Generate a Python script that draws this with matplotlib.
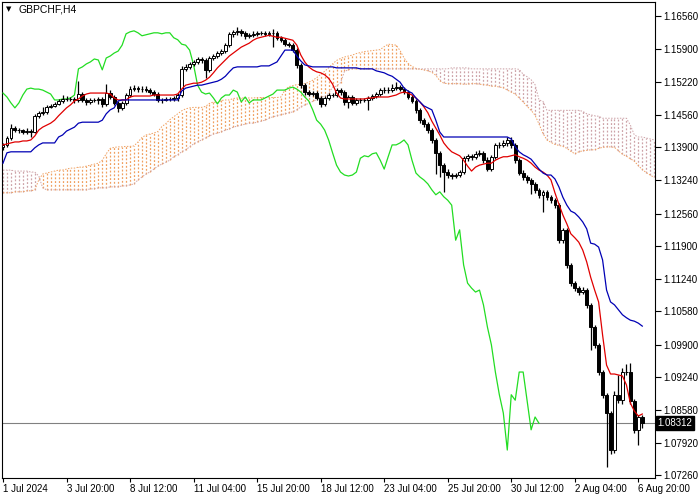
import matplotlib
matplotlib.use('Agg')
import matplotlib.pyplot as plt
import numpy as np

plt.rcParams['font.family'] = 'Liberation Sans'

symbol = 'GBPCHF,H4'
last_price = 1.08312

# H4 candles, bar 0 = 1 Jul 2024
opens = [
    1.1391, 1.1395, 1.1409, 1.1429, 1.1425, 1.1425, 1.1421, 1.1423, 1.1421, 1.1454,
    1.1460, 1.1462, 1.1472, 1.1474, 1.1478, 1.1484, 1.1488, 1.1488, 1.1488, 1.1486,
    1.1498, 1.1486, 1.1482, 1.1486, 1.1486, 1.1488, 1.1478, 1.1500, 1.1492, 1.1480,
    1.1470, 1.1480, 1.1496, 1.1508, 1.1510, 1.1508, 1.1508, 1.1506, 1.1502, 1.1498,
    1.1486, 1.1486, 1.1488, 1.1488, 1.1490, 1.1496, 1.1549, 1.1553, 1.1559, 1.1563,
    1.1569, 1.1567, 1.1547, 1.1571, 1.1575, 1.1581, 1.1585, 1.1597, 1.1620, 1.1624,
    1.1626, 1.1622, 1.1616, 1.1618, 1.1620, 1.1622, 1.1622, 1.1620, 1.1622, 1.1622,
    1.1612, 1.1608, 1.1599, 1.1597, 1.1587, 1.1557, 1.1516, 1.1502, 1.1498, 1.1500,
    1.1490, 1.1478, 1.1490, 1.1496, 1.1496, 1.1506, 1.1502, 1.1482, 1.1492, 1.1480,
    1.1486, 1.1486, 1.1486, 1.1490, 1.1494, 1.1498, 1.1506, 1.1506, 1.1506, 1.1510,
    1.1512, 1.1508, 1.1502, 1.1492, 1.1484, 1.1466, 1.1445, 1.1437, 1.1425, 1.1405,
    1.1379, 1.1354, 1.1340, 1.1334, 1.1332, 1.1334, 1.1340, 1.1368, 1.1373, 1.1371,
    1.1377, 1.1379, 1.1364, 1.1346, 1.1371, 1.1395, 1.1395, 1.1399, 1.1405, 1.1395,
    1.1364, 1.1338, 1.1330, 1.1324, 1.1316, 1.1304, 1.1294, 1.1300, 1.1290, 1.1283,
    1.1273, 1.1202, 1.1223, 1.1152, 1.1115, 1.1105, 1.1097, 1.1101, 1.1071, 1.1026,
    1.0990, 1.0935, 1.0889, 1.0852, 1.0777, 1.0889, 1.0878, 1.0935, 1.0935, 1.0877,
    1.0818, 1.0844,
]
highs = [
    1.1399, 1.1413, 1.1437, 1.1433, 1.1429, 1.1427, 1.1429, 1.1427, 1.1458, 1.1464,
    1.1472, 1.1476, 1.1478, 1.1482, 1.1488, 1.1496, 1.1494, 1.1492, 1.1492, 1.1524,
    1.1502, 1.1490, 1.1490, 1.1490, 1.1492, 1.1492, 1.1518, 1.1506, 1.1496, 1.1484,
    1.1484, 1.1500, 1.1514, 1.1516, 1.1514, 1.1514, 1.1514, 1.1510, 1.1506, 1.1502,
    1.1490, 1.1492, 1.1492, 1.1494, 1.1500, 1.1555, 1.1559, 1.1563, 1.1567, 1.1573,
    1.1573, 1.1571, 1.1575, 1.1579, 1.1585, 1.1589, 1.1601, 1.1624, 1.1628, 1.1634,
    1.1630, 1.1626, 1.1622, 1.1626, 1.1626, 1.1626, 1.1626, 1.1626, 1.1630, 1.1626,
    1.1616, 1.1612, 1.1603, 1.1601, 1.1591, 1.1561, 1.1520, 1.1506, 1.1504, 1.1504,
    1.1494, 1.1494, 1.1500, 1.1500, 1.1510, 1.1510, 1.1506, 1.1496, 1.1496, 1.1490,
    1.1490, 1.1490, 1.1494, 1.1498, 1.1502, 1.1510, 1.1512, 1.1512, 1.1518, 1.1522,
    1.1516, 1.1512, 1.1506, 1.1496, 1.1488, 1.1470, 1.1449, 1.1441, 1.1429, 1.1409,
    1.1383, 1.1358, 1.1346, 1.1338, 1.1338, 1.1344, 1.1372, 1.1377, 1.1377, 1.1383,
    1.1385, 1.1383, 1.1370, 1.1375, 1.1399, 1.1401, 1.1405, 1.1411, 1.1411, 1.1399,
    1.1368, 1.1344, 1.1334, 1.1328, 1.1320, 1.1308, 1.1304, 1.1304, 1.1294, 1.1287,
    1.1277, 1.1227, 1.1227, 1.1156, 1.1119, 1.1109, 1.1107, 1.1105, 1.1075, 1.1030,
    1.0994, 1.0939, 1.0893, 1.0856, 1.0897, 1.0929, 1.0943, 1.0951, 1.0953, 1.0881,
    1.0848, 1.0848,
]
lows = [
    1.1385, 1.1391, 1.1405, 1.1421, 1.1419, 1.1417, 1.1417, 1.1411, 1.1419, 1.1450,
    1.1456, 1.1458, 1.1470, 1.1472, 1.1476, 1.1480, 1.1484, 1.1484, 1.1480, 1.1482,
    1.1482, 1.1476, 1.1478, 1.1482, 1.1478, 1.1472, 1.1474, 1.1488, 1.1476, 1.1462,
    1.1466, 1.1476, 1.1492, 1.1504, 1.1502, 1.1502, 1.1502, 1.1498, 1.1494, 1.1482,
    1.1480, 1.1484, 1.1484, 1.1484, 1.1484, 1.1492, 1.1545, 1.1549, 1.1555, 1.1559,
    1.1561, 1.1530, 1.1543, 1.1567, 1.1571, 1.1577, 1.1581, 1.1593, 1.1614, 1.1618,
    1.1616, 1.1610, 1.1612, 1.1614, 1.1616, 1.1618, 1.1616, 1.1616, 1.1594, 1.1608,
    1.1604, 1.1595, 1.1593, 1.1583, 1.1551, 1.1510, 1.1496, 1.1494, 1.1494, 1.1486,
    1.1472, 1.1474, 1.1486, 1.1492, 1.1492, 1.1496, 1.1476, 1.1470, 1.1476, 1.1476,
    1.1480, 1.1482, 1.1466, 1.1486, 1.1490, 1.1494, 1.1500, 1.1500, 1.1502, 1.1506,
    1.1504, 1.1498, 1.1488, 1.1480, 1.1460, 1.1439, 1.1431, 1.1419, 1.1399, 1.1336,
    1.1330, 1.1299, 1.1328, 1.1326, 1.1328, 1.1330, 1.1336, 1.1362, 1.1365, 1.1367,
    1.1373, 1.1358, 1.1342, 1.1342, 1.1367, 1.1389, 1.1391, 1.1393, 1.1389, 1.1358,
    1.1334, 1.1324, 1.1318, 1.1296, 1.1298, 1.1288, 1.1259, 1.1284, 1.1277, 1.1267,
    1.1196, 1.1196, 1.1146, 1.1109, 1.1099, 1.1091, 1.1093, 1.1065, 1.0980, 1.0984,
    1.0929, 1.0883, 1.0743, 1.0768, 1.0771, 1.0872, 1.0870, 1.0929, 1.0871, 1.0812,
    1.0787, 1.0821,
]
closes = [
    1.1395, 1.1409, 1.1429, 1.1425, 1.1425, 1.1421, 1.1423, 1.1421, 1.1454, 1.1460,
    1.1462, 1.1472, 1.1474, 1.1478, 1.1484, 1.1488, 1.1488, 1.1488, 1.1486, 1.1498,
    1.1486, 1.1482, 1.1486, 1.1486, 1.1488, 1.1478, 1.1500, 1.1492, 1.1480, 1.1470,
    1.1480, 1.1496, 1.1508, 1.1510, 1.1508, 1.1508, 1.1506, 1.1502, 1.1498, 1.1486,
    1.1486, 1.1488, 1.1488, 1.1490, 1.1496, 1.1549, 1.1553, 1.1559, 1.1563, 1.1569,
    1.1567, 1.1547, 1.1571, 1.1575, 1.1581, 1.1585, 1.1597, 1.1620, 1.1624, 1.1626,
    1.1622, 1.1616, 1.1618, 1.1620, 1.1622, 1.1622, 1.1620, 1.1622, 1.1622, 1.1612,
    1.1608, 1.1599, 1.1597, 1.1587, 1.1557, 1.1516, 1.1502, 1.1498, 1.1500, 1.1490,
    1.1478, 1.1490, 1.1496, 1.1496, 1.1506, 1.1502, 1.1482, 1.1492, 1.1480, 1.1486,
    1.1486, 1.1486, 1.1490, 1.1494, 1.1498, 1.1506, 1.1506, 1.1506, 1.1510, 1.1512,
    1.1508, 1.1502, 1.1492, 1.1484, 1.1466, 1.1445, 1.1437, 1.1425, 1.1405, 1.1379,
    1.1354, 1.1340, 1.1334, 1.1332, 1.1334, 1.1340, 1.1368, 1.1373, 1.1371, 1.1377,
    1.1379, 1.1364, 1.1346, 1.1371, 1.1395, 1.1395, 1.1399, 1.1405, 1.1395, 1.1364,
    1.1338, 1.1330, 1.1324, 1.1316, 1.1304, 1.1294, 1.1300, 1.1290, 1.1283, 1.1273,
    1.1202, 1.1223, 1.1152, 1.1115, 1.1105, 1.1097, 1.1101, 1.1071, 1.1026, 1.0990,
    1.0935, 1.0889, 1.0852, 1.0777, 1.0889, 1.0878, 1.0935, 1.0935, 1.0877, 1.0818,
    1.0844, 1.0831,
]

# Ichimoku lines
tenkan = [
    1.1395, 1.1397, 1.1399, 1.1401, 1.1401, 1.1403, 1.1403, 1.1405, 1.1413, 1.1425,
    1.1431, 1.1435, 1.1439, 1.1445, 1.1454, 1.1462, 1.1470, 1.1476, 1.1484, 1.1488,
    1.1494, 1.1498, 1.1500, 1.1500, 1.1500, 1.1500, 1.1500, 1.1498, 1.1490, 1.1486,
    1.1486, 1.1486, 1.1492, 1.1494, 1.1494, 1.1494, 1.1494, 1.1494, 1.1496, 1.1496,
    1.1496, 1.1496, 1.1496, 1.1496, 1.1498, 1.1508, 1.1516, 1.1518, 1.1520, 1.1520,
    1.1522, 1.1526, 1.1532, 1.1541, 1.1551, 1.1559, 1.1567, 1.1575, 1.1581, 1.1587,
    1.1593, 1.1597, 1.1601, 1.1607, 1.1611, 1.1613, 1.1615, 1.1617, 1.1615, 1.1613,
    1.1613, 1.1611, 1.1609, 1.1607, 1.1597, 1.1577, 1.1563, 1.1553, 1.1547, 1.1543,
    1.1541, 1.1537, 1.1530, 1.1518, 1.1500, 1.1490, 1.1488, 1.1488, 1.1488, 1.1488,
    1.1488, 1.1488, 1.1490, 1.1490, 1.1492, 1.1492, 1.1492, 1.1492, 1.1494, 1.1496,
    1.1500, 1.1502, 1.1500, 1.1496, 1.1490, 1.1482, 1.1472, 1.1460, 1.1443, 1.1429,
    1.1415, 1.1399, 1.1389, 1.1381, 1.1377, 1.1373, 1.1364, 1.1352, 1.1342, 1.1350,
    1.1354, 1.1356, 1.1358, 1.1358, 1.1364, 1.1368, 1.1371, 1.1371, 1.1373, 1.1375,
    1.1371, 1.1368, 1.1364, 1.1358, 1.1350, 1.1344, 1.1340, 1.1334, 1.1324, 1.1298,
    1.1275, 1.1253, 1.1235, 1.1215, 1.1207, 1.1198, 1.1182, 1.1158, 1.1127, 1.1101,
    1.1077, 1.1010, 1.0949, 1.0931, 1.0931, 1.0929, 1.0927, 1.0909, 1.0872, 1.0856,
    1.0846, 1.0850,
]
kijun = [
    1.1358, 1.1379, 1.1381, 1.1381, 1.1381, 1.1381, 1.1381, 1.1381, 1.1389, 1.1395,
    1.1399, 1.1399, 1.1399, 1.1399, 1.1411, 1.1415, 1.1423, 1.1427, 1.1431, 1.1439,
    1.1441, 1.1441, 1.1441, 1.1441, 1.1441, 1.1445, 1.1458, 1.1466, 1.1470, 1.1484,
    1.1486, 1.1486, 1.1486, 1.1486, 1.1486, 1.1486, 1.1486, 1.1486, 1.1486, 1.1486,
    1.1486, 1.1486, 1.1486, 1.1486, 1.1486, 1.1504, 1.1510, 1.1512, 1.1514, 1.1516,
    1.1516, 1.1518, 1.1520, 1.1522, 1.1524, 1.1528, 1.1534, 1.1543, 1.1551, 1.1553,
    1.1553, 1.1553, 1.1553, 1.1553, 1.1553, 1.1555, 1.1555, 1.1555, 1.1559, 1.1563,
    1.1575, 1.1587, 1.1587, 1.1587, 1.1575, 1.1565, 1.1557, 1.1555, 1.1553, 1.1553,
    1.1553, 1.1553, 1.1553, 1.1553, 1.1551, 1.1551, 1.1551, 1.1551, 1.1551, 1.1551,
    1.1549, 1.1549, 1.1549, 1.1549, 1.1545, 1.1543, 1.1541, 1.1537, 1.1534, 1.1528,
    1.1522, 1.1510, 1.1504, 1.1500, 1.1490, 1.1482, 1.1474, 1.1470, 1.1466, 1.1445,
    1.1421, 1.1411, 1.1411, 1.1411, 1.1411, 1.1411, 1.1411, 1.1411, 1.1411, 1.1411,
    1.1411, 1.1411, 1.1411, 1.1411, 1.1411, 1.1411, 1.1411, 1.1411, 1.1407, 1.1391,
    1.1381, 1.1375, 1.1371, 1.1366, 1.1356, 1.1346, 1.1338, 1.1334, 1.1334, 1.1326,
    1.1310, 1.1289, 1.1273, 1.1261, 1.1257, 1.1249, 1.1239, 1.1225, 1.1196, 1.1194,
    1.1188, 1.1162, 1.1101, 1.1077, 1.1071, 1.1061, 1.1051, 1.1045, 1.1040, 1.1038,
    1.1034, 1.1028,
]
span_a = [
    1.1298, 1.1298, 1.1298, 1.1300, 1.1300, 1.1300, 1.1302, 1.1302, 1.1304, 1.1324,
    1.1336, 1.1338, 1.1340, 1.1342, 1.1344, 1.1344, 1.1346, 1.1348, 1.1348, 1.1350,
    1.1350, 1.1352, 1.1354, 1.1356, 1.1358, 1.1364, 1.1377, 1.1388, 1.1390, 1.1391,
    1.1391, 1.1392, 1.1392, 1.1393, 1.1401, 1.1410, 1.1415, 1.1417, 1.1419, 1.1422,
    1.1432, 1.1438, 1.1446, 1.1452, 1.1458, 1.1464, 1.1468, 1.1470, 1.1471, 1.1471,
    1.1471, 1.1473, 1.1479, 1.1482, 1.1480, 1.1485, 1.1486, 1.1486, 1.1489, 1.1490,
    1.1490, 1.1490, 1.1490, 1.1490, 1.1491, 1.1491, 1.1491, 1.1491, 1.1491, 1.1491,
    1.1492, 1.1506, 1.1513, 1.1515, 1.1517, 1.1518, 1.1519, 1.1522, 1.1526, 1.1531,
    1.1538, 1.1544, 1.1551, 1.1559, 1.1566, 1.1570, 1.1573, 1.1575, 1.1577, 1.1580,
    1.1582, 1.1584, 1.1585, 1.1586, 1.1587, 1.1588, 1.1594, 1.1599, 1.1598, 1.1597,
    1.1586, 1.1571, 1.1560, 1.1554, 1.1550, 1.1548, 1.1547, 1.1545, 1.1542, 1.1536,
    1.1525, 1.1520, 1.1519, 1.1519, 1.1519, 1.1519, 1.1518, 1.1518, 1.1519, 1.1519,
    1.1518, 1.1517, 1.1516, 1.1514, 1.1514, 1.1512, 1.1511, 1.1506, 1.1502, 1.1498,
    1.1490, 1.1482, 1.1473, 1.1465, 1.1455, 1.1437, 1.1418, 1.1405, 1.1400, 1.1396,
    1.1394, 1.1392, 1.1388, 1.1382, 1.1377, 1.1381, 1.1383, 1.1384, 1.1385, 1.1385,
    1.1388, 1.1390, 1.1391, 1.1391, 1.1390, 1.1383, 1.1376, 1.1372, 1.1367, 1.1362,
    1.1353, 1.1345, 1.1339, 1.1334, 1.1329,
]
span_b = [
    1.1344, 1.1344, 1.1344, 1.1342, 1.1342, 1.1342, 1.1342, 1.1340, 1.1340, 1.1332,
    1.1308, 1.1304, 1.1304, 1.1304, 1.1304, 1.1304, 1.1304, 1.1304, 1.1304, 1.1304,
    1.1304, 1.1304, 1.1306, 1.1306, 1.1308, 1.1308, 1.1308, 1.1310, 1.1310, 1.1310,
    1.1312, 1.1312, 1.1314, 1.1316, 1.1324, 1.1330, 1.1336, 1.1340, 1.1346, 1.1352,
    1.1356, 1.1360, 1.1364, 1.1371, 1.1375, 1.1381, 1.1385, 1.1391, 1.1397, 1.1401,
    1.1405, 1.1409, 1.1413, 1.1417, 1.1419, 1.1421, 1.1425, 1.1427, 1.1431, 1.1433,
    1.1435, 1.1437, 1.1439, 1.1439, 1.1441, 1.1443, 1.1445, 1.1449, 1.1452, 1.1454,
    1.1456, 1.1458, 1.1460, 1.1462, 1.1466, 1.1472, 1.1476, 1.1479, 1.1483, 1.1487,
    1.1492, 1.1493, 1.1499, 1.1512, 1.1514, 1.1521, 1.1544, 1.1547, 1.1549, 1.1549,
    1.1549, 1.1549, 1.1549, 1.1549, 1.1549, 1.1549, 1.1549, 1.1549, 1.1549, 1.1549,
    1.1549, 1.1549, 1.1549, 1.1549, 1.1549, 1.1549, 1.1549, 1.1549, 1.1549, 1.1549,
    1.1549, 1.1549, 1.1549, 1.1551, 1.1551, 1.1551, 1.1551, 1.1551, 1.1549, 1.1549,
    1.1549, 1.1549, 1.1549, 1.1549, 1.1549, 1.1549, 1.1549, 1.1549, 1.1549, 1.1549,
    1.1548, 1.1538, 1.1533, 1.1527, 1.1517, 1.1486, 1.1483, 1.1465, 1.1465, 1.1465,
    1.1465, 1.1465, 1.1465, 1.1465, 1.1465, 1.1465, 1.1463, 1.1458, 1.1456, 1.1454,
    1.1453, 1.1449, 1.1449, 1.1449, 1.1449, 1.1449, 1.1449, 1.1449, 1.1435, 1.1415,
    1.1411, 1.1411, 1.1409, 1.1407, 1.1405,
]

tick_bars = [0, 16, 32, 48, 64, 80, 96, 112, 128, 144, 160]
tick_labels = ['1 Jul 2024', '3 Jul 20:00', '8 Jul 12:00', '11 Jul 04:00', '15 Jul 20:00',
               '18 Jul 12:00', '23 Jul 04:00', '25 Jul 20:00', '30 Jul 12:00',
               '2 Aug 04:00', '6 Aug 20:00']
price_ticks = [1.16560, 1.15900, 1.15220, 1.14560, 1.13900, 1.13240, 1.12560, 1.11900,
               1.11240, 1.10580, 1.09900, 1.09240, 1.08580, 1.07920, 1.07260]
chikou_shift = 26

fig = plt.figure(figsize=(7, 5), dpi=100)
ax = fig.add_axes([2 / 700, 22 / 500, 653 / 700, 476 / 500])

o = np.array(opens)
h = np.array(highs)
l = np.array(lows)
c = np.array(closes)
x = np.arange(len(c))

# Kumo: vertical dotted hatching between span A and span B
sa = np.array(span_a)
sb = np.array(span_b)
xc = np.arange(len(sa))
bull = sa >= sb
cloud_up = '#f0a060'
cloud_dn = '#cda3a8'
lo = np.minimum(sa, sb)
hi = np.maximum(sa, sb)
ax.vlines(xc[bull], lo[bull], hi[bull], colors=cloud_up,
          linestyles=(0, (1.5, 1.5)), lw=0.9, zorder=1)
ax.vlines(xc[~bull], lo[~bull], hi[~bull], colors=cloud_dn,
          linestyles=(0, (1.5, 1.5)), lw=0.9, zorder=1)
ax.plot(xc, sa, color=cloud_up, lw=0.7, ls=(0, (1.5, 1.5)), zorder=1)
ax.plot(xc, sb, color=cloud_dn, lw=0.7, ls=(0, (1.5, 1.5)), zorder=1)

# bid line
ax.axhline(last_price, color='#808080', lw=0.8, zorder=2)

# chikou span
ax.plot(x[chikou_shift:] - chikou_shift, c[chikou_shift:], color='#22dd22', lw=0.9, zorder=3)

# candles
up = c >= o
ax.vlines(x, l, h, color='black', lw=0.9, zorder=4)
ax.bar(x[up], np.maximum(c - o, 0.00003)[up], bottom=o[up], width=0.72,
       facecolor='white', edgecolor='black', lw=0.7, zorder=5)
ax.bar(x[~up], (o - c)[~up], bottom=c[~up], width=0.72,
       facecolor='black', edgecolor='black', lw=0.7, zorder=5)

# tenkan / kijun
ax.plot(x, tenkan, color='#e00000', lw=0.9, zorder=6)
ax.plot(x, kijun, color='#0000b4', lw=0.9, zorder=6)

ax.set_xlim(-0.25, 164.2)
ax.set_ylim(1.07204, 1.16844)

ax.yaxis.tick_right()
ax.set_yticks(price_ticks)
ax.set_yticklabels(['%.5f' % p for p in price_ticks])
ax.tick_params(axis='y', direction='out', length=4, width=0.8, pad=2, labelsize=7)
ax.set_xticks(tick_bars)
ax.set_xticklabels(tick_labels, ha='left')
ax.tick_params(axis='x', direction='out', length=3, width=0.8, pad=1.5, labelsize=7)
for s in ax.spines.values():
    s.set_linewidth(0.8)
    s.set_color('black')

# price label on the right
ax.text(1.004, last_price, '%.5f' % last_price, transform=ax.get_yaxis_transform(),
        ha='left', va='center', color='white', fontsize=7, zorder=10, clip_on=False,
        bbox=dict(boxstyle='square,pad=0.2', facecolor='black', edgecolor='black'))

# symbol caption
ax.text(0.006, 0.992, '\u25bc', transform=ax.transAxes, ha='left', va='top',
        fontsize=5, family='DejaVu Sans', color='black')
ax.text(0.025, 0.995, symbol, transform=ax.transAxes, ha='left', va='top',
        fontsize=7.5, color='black')

fig.savefig('out.png', dpi=100, facecolor='white')
